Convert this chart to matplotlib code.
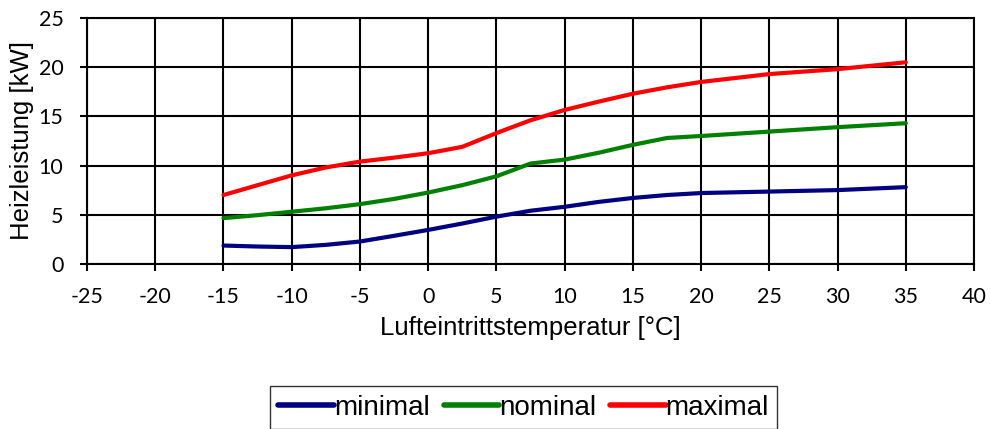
import matplotlib
matplotlib.use("Agg")
import matplotlib.pyplot as plt

plt.rcParams['font.family'] = ['Liberation Sans', 'DejaVu Sans']
plt.rcParams['axes.unicode_minus'] = False

temps = [-15, -12.5, -10, -7.5, -5, -2.5, 0, 2.5, 5, 7.5, 10, 12.5, 15, 17.5, 20, 25, 30, 35]
minimal = [1.86, 1.76, 1.7, 1.93, 2.27, 2.85, 3.45, 4.1, 4.8, 5.4, 5.8, 6.3, 6.7, 7.0, 7.2, 7.35, 7.5, 7.8]
nominal = [4.65, 4.95, 5.3, 5.65, 6.07, 6.6, 7.25, 8.0, 8.9, 10.2, 10.6, 11.3, 12.1, 12.8, 13.0, 13.45, 13.9, 14.3]
maximal = [7.0, 8.0, 9.0, 9.8, 10.4, 10.8, 11.25, 11.9, 13.3, 14.6, 15.65, 16.5, 17.3, 17.95, 18.5, 19.3, 19.8, 20.5]

xticks = list(range(-25, 41, 5))
yticks = list(range(0, 26, 5))

fig = plt.figure(figsize=(9.9, 4.29), dpi=100)
ax = fig.add_axes([0.0879, 0.385, 0.896, 0.573])

ax.plot(temps, minimal, color='#000080', lw=3, label='minimal', solid_capstyle='round')
ax.plot(temps, nominal, color='#008000', lw=3, label='nominal', solid_capstyle='round')
ax.plot(temps, maximal, color='#ff0000', lw=3, label='maximal', solid_capstyle='round')

ax.set_xlim(-25, 40)
ax.set_ylim(0, 25)
ax.set_xticks(xticks)
ax.set_yticks(yticks)
ax.grid(True, color='black', lw=1.5)
ax.set_axisbelow(True)
for s in ax.spines.values():
    s.set_color('black')
    s.set_linewidth(1.5)
ax.tick_params(width=1.5, length=5, colors='black')
for lbl in ax.get_xticklabels() + ax.get_yticklabels():
    lbl.set_family(['Lato', 'DejaVu Sans'])
    lbl.set_fontsize(15.5)
ax.tick_params(axis='x', pad=12)
ax.tick_params(axis='y', pad=12)
ax.set_xlabel('Lufteintrittstemperatur [°C]', fontsize=18.5, labelpad=6)
ax.set_ylabel('Heizleistung [kW]', fontsize=18.5, labelpad=3)

leg = fig.legend(loc='center', bbox_to_anchor=(0.529, 0.05), ncol=3, fontsize=20,
                 frameon=True, fancybox=False, handlelength=2.0, handletextpad=0.0,
                 columnspacing=0.5, borderpad=0.3, borderaxespad=0)
leg.get_frame().set_edgecolor('black')
leg.get_frame().set_linewidth(1)
for line in leg.get_lines():
    line.set_linewidth(4)

fig.savefig('out.png', dpi=100)
